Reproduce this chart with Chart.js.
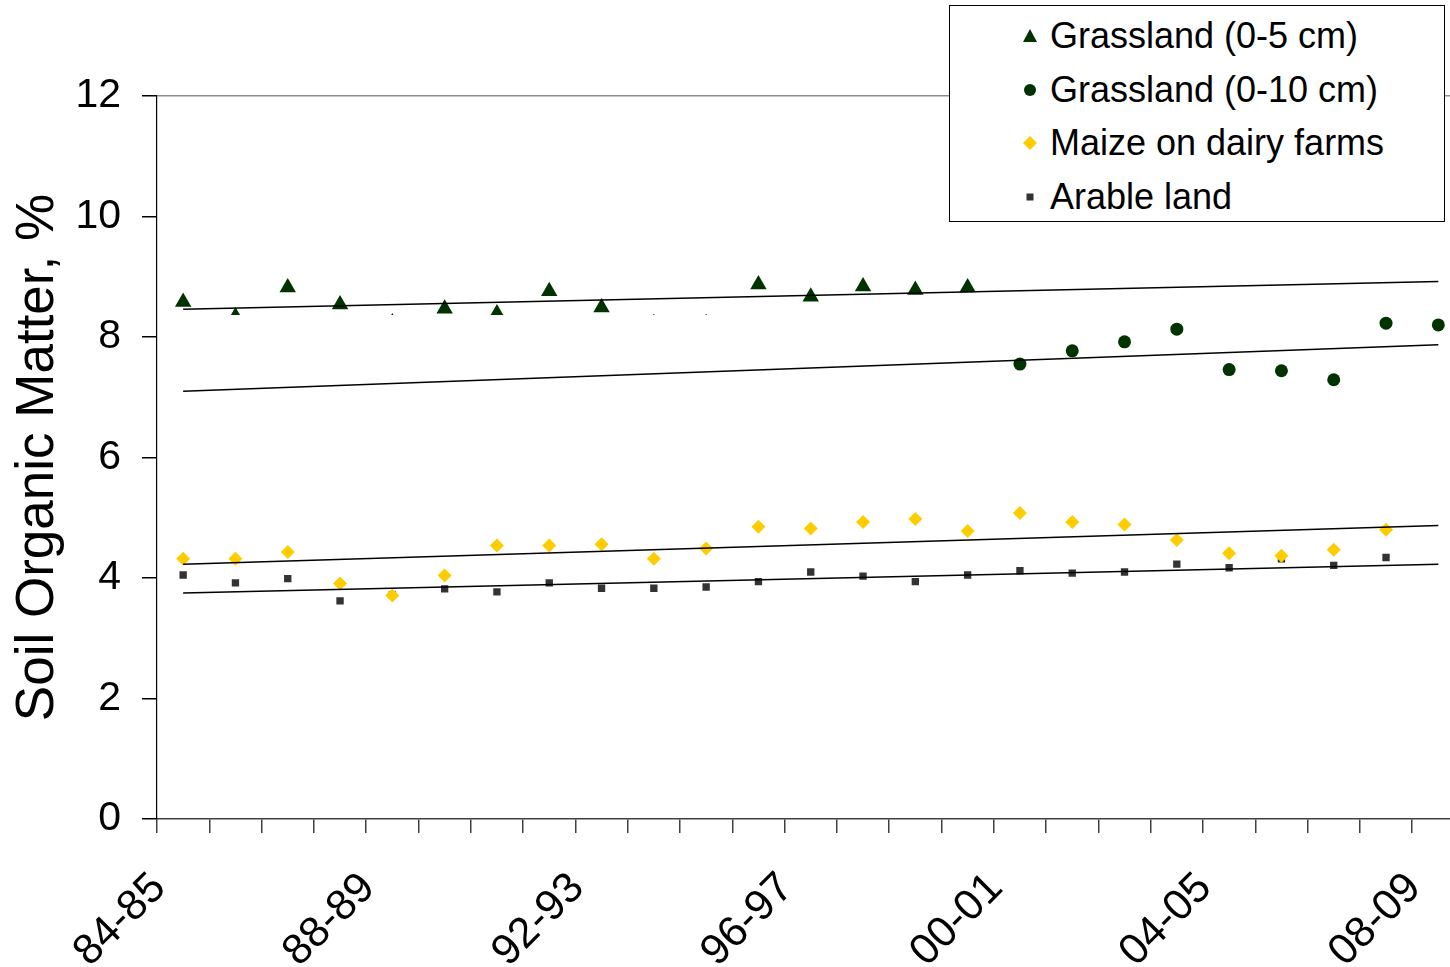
<!DOCTYPE html>
<html><head><meta charset="utf-8">
<script src="https://cdn.jsdelivr.net/npm/chart.js@4/dist/chart.umd.min.js"></script>
<style>
html,body{margin:0;padding:0;background:#fff;overflow:hidden;}
#wrap{position:relative;width:1450px;height:967px;overflow:hidden;background:#fff;}
#c{position:absolute;left:0;top:0;}
#legend{position:absolute;left:949px;top:5px;width:496px;height:217px;box-sizing:border-box;border:1px solid #000;background:#fff;font-family:"Liberation Sans",Arial,sans-serif;font-size:36px;color:#000;}
.row{position:absolute;left:0;height:40px;width:100%;}
.row svg{position:absolute;}
.row span{position:absolute;left:100px;top:0;line-height:40px;white-space:nowrap;}
</style></head><body>
<div id="wrap"><canvas id="c" width="1505" height="967"></canvas><div id="legend"></div></div>
<script>
// ---- data ----
const categories = ['84-85','85-86','86-87','87-88','88-89','89-90','90-91','91-92','92-93','93-94','94-95','95-96','96-97','97-98','98-99','99-00','00-01','01-02','02-03','03-04','04-05','05-06','06-07','07-08','08-09'];
const grassland5 = [8.58, 8.34, 8.82, 8.54, 8.24, 8.47, 8.39, 8.76, 8.49, 8.23, 8.23, 8.87, 8.67, 8.84, 8.78, 8.82, null, null, null, null, null, null, null, null, null];
const grassland10 = [null, null, null, null, null, null, null, null, null, null, null, null, null, null, null, null, 7.55, 7.77, 7.92, 8.13, 7.46, 7.44, 7.29, 8.23, 8.20];
const maize = [4.32, 4.32, 4.43, 3.91, 3.71, 4.04, 4.54, 4.54, 4.56, 4.32, 4.49, 4.85, 4.82, 4.93, 4.98, 4.78, 5.08, 4.93, 4.89, 4.63, 4.41, 4.37, 4.47, 4.80, null];
const arable = [4.05, 3.92, 3.99, 3.62, 3.72, 3.82, 3.77, 3.92, 3.83, 3.83, 3.85, 3.94, 4.10, 4.03, 3.94, 4.05, 4.12, 4.08, 4.10, 4.23, 4.17, 4.32, 4.21, 4.34, null];
// trendline end values (first and last category)
const grassland5Trend = [8.46, 8.92];
const grassland10Trend = [7.10, 7.87];
const maizeTrend = [4.23, 4.87];
const arableTrend = [3.75, 4.23];
const seriesNames = ['Grassland (0-5 cm)', 'Grassland (0-10 cm)', 'Maize on dairy farms', 'Arable land'];
const yTicks = [0, 2, 4, 6, 8, 10, 12];

const GREEN = '#003300', YELLOW = '#FFCC00', GREY = '#333333';

function trendArray(ends) {
  const a = categories.map(() => null);
  a[0] = ends[0];
  a[a.length - 1] = ends[1];
  return a;
}
function trendDataset(ends) {
  return { data: trendArray(ends), borderColor: '#000', borderWidth: 1.5, pointRadius: 0, spanGaps: true, showLine: true, order: -1, fill: false };
}

Chart.defaults.font.family = '"Liberation Sans", Arial, sans-serif';

new Chart(document.getElementById('c'), {
  type: 'line',
  data: {
    labels: categories,
    datasets: [
      { label: seriesNames[0], data: grassland5, showLine: false, pointStyle: 'triangle', pointRadius: 9.5, pointBackgroundColor: GREEN, pointBorderColor: GREEN, pointBorderWidth: 0,
        clip: { left: 40, top: 40, right: 40, bottom: -504 } },
      { label: seriesNames[1], data: grassland10, showLine: false, pointStyle: 'circle', pointRadius: 6.5, pointBackgroundColor: GREEN, pointBorderColor: GREEN, pointBorderWidth: 0 },
      { label: seriesNames[2], data: maize, showLine: false, pointStyle: 'rectRot', pointRadius: 7, pointBackgroundColor: YELLOW, pointBorderColor: YELLOW, pointBorderWidth: 0 },
      { label: seriesNames[3], data: arable, showLine: false, pointStyle: 'rect', pointRadius: 5.2, pointBackgroundColor: GREY, pointBorderColor: GREY, pointBorderWidth: 0 },
      trendDataset(grassland5Trend),
      trendDataset(grassland10Trend),
      trendDataset(maizeTrend),
      trendDataset(arableTrend)
    ]
  },
  options: {
    responsive: false,
    animation: false,
    events: [],
    layout: { padding: { top: 96, right: 6, left: 0, bottom: 0 } },
    plugins: { legend: { display: false }, tooltip: { enabled: false } },
    scales: {
      x: {
        type: 'category',
        offset: true,
        grid: { offset: true, drawOnChartArea: false, tickLength: 14, color: '#404040', tickColor: '#404040', lineWidth: 1.5 },
        border: { color: '#404040', width: 1.5 },
        ticks: {
          autoSkip: false, minRotation: 45, maxRotation: 45, padding: 30, labelOffset: -24,
          font: { size: 43 }, color: '#000',
          callback: (v, i) => (i % 4 === 0 ? categories[i] : '')
        },
        afterFit: s => { s.height = 148; }
      },
      y: {
        min: 0, max: 12,
        afterBuildTicks: s => { s.ticks = yTicks.map(v => ({ value: v })); },
        ticks: { font: { size: 41 }, color: '#000', padding: 21 },
        grid: {
          drawOnChartArea: true, tickLength: 15, tickColor: '#000',
          color: c => (c.tick && c.tick.value === 12 ? '#8c8c8c' : 'rgba(0,0,0,0)'),
          lineWidth: 1.5
        },
        border: { color: '#000', width: 1.2 },
        title: { display: true, text: 'Soil Organic Matter, %', font: { size: 53 }, color: '#000', padding: { top: 7, bottom: 0 } },
        afterFit: s => { s.width = 157; }
      }
    }
  }
});

// ---- legend (HTML overlay) ----
const legendMarkers = [
  { shape: 'triangle', color: GREEN },
  { shape: 'circle', color: GREEN },
  { shape: 'diamond', color: YELLOW },
  { shape: 'square', color: GREY }
];
const legendRowCenters = [36, 90, 143, 197];
const lg = document.getElementById('legend');
seriesNames.forEach((name, i) => {
  const row = document.createElement('div');
  row.className = 'row';
  row.style.top = (legendRowCenters[i] - 6 - 20) + 'px';
  const m = legendMarkers[i];
  let shape = '';
  if (m.shape === 'triangle') shape = '<polygon points="8,1 15,14 1,14" fill="' + m.color + '"/>';
  if (m.shape === 'circle') shape = '<circle cx="8" cy="8" r="6" fill="' + m.color + '"/>';
  if (m.shape === 'diamond') shape = '<polygon points="8,1 15,8 8,15 1,8" fill="' + m.color + '"/>';
  if (m.shape === 'square') shape = '<rect x="4.5" y="4.5" width="7" height="7" fill="' + m.color + '"/>';
  row.innerHTML = '<svg width="16" height="16" style="left:72px;top:12px">' + shape + '</svg><span>' + name + '</span>';
  lg.appendChild(row);
});
</script>
</body></html>
